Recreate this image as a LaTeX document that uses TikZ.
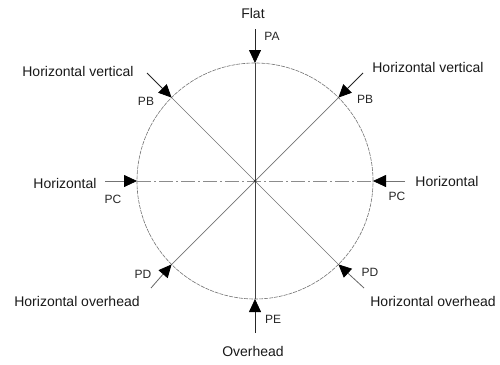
\documentclass[tikz,border=0pt]{standalone}
\usepackage{fontspec}
\setmainfont{Liberation Sans}
\usetikzlibrary{arrows.meta}
\begin{document}
\begin{tikzpicture}[x=1pt,y=-1pt,
  big/.style={font=\fontsize{14pt}{16pt}\selectfont, text=black!90, inner sep=0pt},
  small/.style={font=\fontsize{12pt}{14pt}\selectfont, text=black!85, inner sep=0pt},
  inarrow/.style={draw=black!85, line width=0.8pt, -{Triangle[length=13pt,width=12pt,color=black]}},
  diag/.style={draw=black!55, line width=0.7pt},
  chain/.style={draw=black!45, line width=0.8pt, dash pattern=on 14pt off 3pt on 2pt off 3pt},
  ring/.style={draw=black!55, line width=0.6pt, dash pattern=on 4pt off 1pt}]
\useasboundingbox (0,0) rectangle (500,364);
\coordinate (c) at (255,181);
% points on the circle
\coordinate (tA) at (255,63);
\coordinate (tE) at (255,299);
\coordinate (tBl) at (171.6,97.6);
\coordinate (tBr) at (338.4,97.6);
\coordinate (tCl) at (137,181);
\coordinate (tCr) at (373,181);
\coordinate (tDl) at (171.6,264.4);
\coordinate (tDr) at (338.4,264.4);
% free ends of arrows
\coordinate (sA) at (255,29);
\coordinate (sE) at (255,333);
\coordinate (sBl) at (147,73);
\coordinate (sBr) at (363,73);
\coordinate (sCl) at (105,181);
\coordinate (sCr) at (405,181);
\coordinate (sDl) at (151,288);
\coordinate (sDr) at (364,288);

\draw[ring] (c) circle[radius=118pt];
\draw[draw=black!75, line width=0.8pt] (tA) -- (tE);
\draw[diag] (tBl) -- (tDr);
\draw[diag] (tBr) -- (tDl);
\draw[chain] (tCl) -- (tCr);
\fill[black!80] (c) circle[radius=1.5pt];

\draw[inarrow] (sA) -- (tA);
\draw[inarrow] (sE) -- (tE);
\draw[inarrow] (sBl) -- (tBl);
\draw[inarrow] (sBr) -- (tBr);
\draw[inarrow, draw=black!55] (sCl) -- (tCl);
\draw[inarrow, draw=black!55] (sCr) -- (tCr);
\draw[inarrow, draw=black!60] (sDl) -- (tDl);
\draw[inarrow, draw=black!60] (sDr) -- (tDr);

\node[big] (lFlat) at (253,13) {Flat};
\node[small] (lPA) at (272,36) {PA};
\node[big] (lHVl) at (78,71) {Horizontal vertical};
\node[small] (lPBl) at (146,101) {PB};
\node[big] (lHVr) at (428,67) {Horizontal vertical};
\node[small] (lPBr) at (365,99) {PB};
\node[big] (lHl) at (65,183) {Horizontal};
\node[small] (lPCl) at (113,199) {PC};
\node[big] (lHr) at (447,181) {Horizontal};
\node[small] (lPCr) at (397,196) {PC};
\node[small] (lPDl) at (143,274) {PD};
\node[big] (lHOl) at (77,301) {Horizontal overhead};
\node[small] (lPDr) at (370,272) {PD};
\node[big] (lHOr) at (433,301) {Horizontal overhead};
\node[small] (lPE) at (273,319) {PE};
\node[big] (lOver) at (253,351) {Overhead};
\end{tikzpicture}
\end{document}
